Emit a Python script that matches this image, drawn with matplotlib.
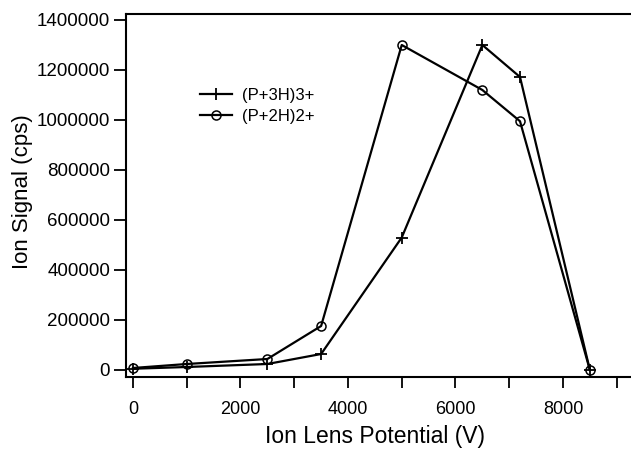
import matplotlib
matplotlib.use("Agg")
import matplotlib.pyplot as plt
from matplotlib.ticker import MultipleLocator, FuncFormatter

plt.rcParams['font.family'] = ['Liberation Sans', 'DejaVu Sans']

# lens potential (V)
potential = [0, 1000, 2500, 3500, 5000, 6500, 7200, 8500]
# ion signal (cps)
signal_3h = [5000, 12000, 24000, 64000, 530000, 1300000, 1172000, 0]
signal_2h = [8000, 24000, 44000, 176000, 1300000, 1120000, 995000, 0]
series_labels = ["(P+3H)3+", "(P+2H)2+"]

fig = plt.figure(figsize=(6.31, 4.49), dpi=100)
ax = fig.add_axes([126/631, 1 - 377/449, 1 - 126/631, (377 - 14)/449])

ax.plot(potential, signal_3h, color="black", lw=1.6, marker="+",
        markersize=8, mew=1.3, label=series_labels[0])
ax.plot(potential, signal_2h, color="black", lw=1.6, marker="o",
        markersize=6.5, mfc="none", mew=1.1, label=series_labels[1])

ax.set_xlim(-130, 9265)
ax.set_ylim(-28000, 1424000)

ax.spines["right"].set_visible(False)
for s in ["left", "bottom", "top"]:
    ax.spines[s].set_linewidth(1.5)

ax.xaxis.set_major_locator(MultipleLocator(1000))
ax.xaxis.set_major_formatter(FuncFormatter(lambda v, p: f"{int(v)}" if v % 2000 == 0 else ""))
ax.yaxis.set_major_locator(MultipleLocator(200000))
ax.yaxis.set_major_formatter(FuncFormatter(lambda v, p: f"{int(v)}"))

ax.tick_params(axis="x", direction="out", length=8, width=1.3, pad=9, labelsize=13)
ax.tick_params(axis="y", direction="out", length=8.5, width=1.3, pad=3, labelsize=13.5)

ax.set_xlabel("Ion Lens Potential (V)", fontsize=16.5)
ax.set_ylabel("Ion Signal (cps)", fontsize=16)
ax.xaxis.set_label_coords(0.493, -0.132)
ax.yaxis.set_label_coords(-0.184, 0.512)

ax.legend(loc="upper left", bbox_to_anchor=(0.1465, 0.796), frameon=False,
          fontsize=12, handlelength=1.9, handletextpad=0.6,
          borderpad=0, borderaxespad=0, labelspacing=0.35)

fig.savefig("out.png", dpi=100)
